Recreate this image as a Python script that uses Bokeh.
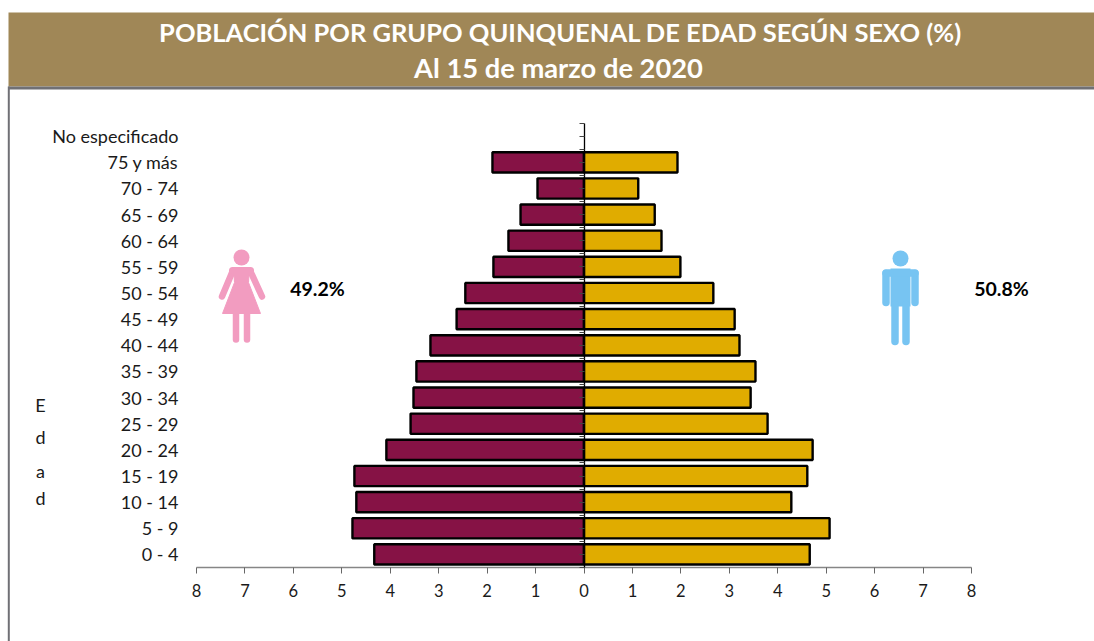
from bokeh.plotting import figure
from bokeh.models import Range1d, LinearAxis, FixedTicker, Label
from bokeh.embed import file_html
from bokeh.resources import INLINE

categories = ["0 - 4","5 - 9","10 - 14","15 - 19","20 - 24","25 - 29","30 - 34","35 - 39",
              "40 - 44","45 - 49","50 - 54","55 - 59","60 - 64","65 - 69","70 - 74","75 y más","No especificado"]
mujeres = [4.33,4.78,4.70,4.74,4.08,3.58,3.52,3.46,3.17,2.63,2.45,1.87,1.56,1.31,0.96,1.89,0]
hombres = [4.66,5.07,4.28,4.61,4.72,3.79,3.44,3.54,3.21,3.11,2.67,1.99,1.60,1.46,1.12,1.93,0]
x_ticks = [-8,-7,-6,-5,-4,-3,-2,-1,0,1,2,3,4,5,6,7,8]
title1 = "POBLACIÓN POR GRUPO QUINQUENAL DE EDAD SEGÚN SEXO (%)"
title2 = "Al 15 de marzo de 2020"
pct_m, pct_h = "49.2%", "50.8%"

FONT = "Lato"
W, H = 1094, 641
LEFT, TOP = 0, 0
X0, XU = 583.5, 48.44        # image px of value 0, px per unit
YB, YU = 567.0, 26.14        # image px of axis bottom, px per category

p = figure(width=W, height=H, output_backend="svg", toolbar_location=None,
           x_range=Range1d((LEFT-X0)/XU, (LEFT+W-X0)/XU),
           y_range=Range1d((YB-(TOP+H))/YU-0.5, (YB-TOP)/YU-0.5),
           min_border=0, x_axis_location=None, y_axis_location=None)
p.outline_line_color = None
p.grid.visible = False
p.extra_x_ranges["px"] = Range1d(LEFT, LEFT+W)
p.extra_y_ranges["py"] = Range1d(TOP+H, TOP)
px = dict(x_range_name="px", y_range_name="py")

# banner and frame lines
p.quad(left=[8], right=[1094], top=[12], bottom=[86], fill_color="#A08757", line_color=None, **px)
p.quad(left=[8], right=[1094], top=[86], bottom=[89], fill_color="#707075", line_color=None, **px)
p.quad(left=[7.3], right=[9.3], top=[86], bottom=[641], fill_color="#707075", line_color=None, **px)

ys = list(range(len(categories)))
bar_h = 0.775
ym = [y for y, v in zip(ys, mujeres) if v > 0]
yh = [y for y, v in zip(ys, hombres) if v > 0]
p.hbar(y=ym, left=[-v for v in mujeres if v > 0], right=0, height=bar_h, fill_color="#861245",
       line_color="black", line_width=2.4)
p.hbar(y=yh, left=0, right=[v for v in hombres if v > 0], height=bar_h, fill_color="#E0AC00",
       line_color="black", line_width=2.4)

# x axis
xax = LinearAxis(fixed_location=-0.5, ticker=FixedTicker(ticks=x_ticks), bounds=(-8, 8),
                 major_label_overrides={t: str(abs(t)) for t in x_ticks},
                 axis_line_color="#868686", axis_line_width=1.5,
                 major_tick_line_color="#666666", major_tick_out=6, major_tick_in=0,
                 minor_tick_line_color=None, major_label_standoff=10,
                 major_label_text_font=FONT, major_label_text_font_size="16.5px",
                 major_label_text_color="#1a1a1a")
p.add_layout(xax, "below")

# central axis with half-category ticks
half = [(i-1)/2 for i in range(len(categories)*2+1)]
zax = LinearAxis(fixed_location=0, ticker=FixedTicker(ticks=half), bounds=(-0.5, len(categories)-0.5),
                 axis_line_color="black", axis_line_width=1.3,
                 major_tick_line_color="#444444", major_tick_out=5, major_tick_in=0,
                 minor_tick_line_color=None, major_label_text_color=None,
                 major_label_text_font_size="1px")
p.add_layout(zax, "left")

# category labels
cax = LinearAxis(fixed_location=(196-X0)/XU, ticker=FixedTicker(ticks=ys),
                 major_label_overrides={i: c for i, c in enumerate(categories)},
                 axis_line_color=None, major_tick_line_color=None, minor_tick_line_color=None,
                 major_label_standoff=12, major_label_text_font=FONT,
                 major_label_text_font_size="18px", major_label_text_color="#1a1a1a")
p.add_layout(cax, "left")

# woman icon
PINK, BLUE = "#F29CC0", "#77C4F2"
p.scatter([241], [257], size=16, fill_color=PINK, line_color=None, **px)
p.patch([233,249,248,260,222,234], [267,267,282,313,313,282], fill_color=PINK, line_color=PINK, line_width=1, **px)
p.segment([232,250,235.5,246.5], [271,271,313,313], [221.5,261.5,235.5,246.5], [296,296,339,339],
          line_color=PINK, line_width=6.5, line_cap="round", **px)
p.segment([232], [270], [250], [270], line_color=PINK, line_width=7, line_cap="round", **px)
# man icon
p.scatter([900], [258], size=16, fill_color=BLUE, line_color=None, **px)
p.quad(left=[890], right=[910], top=[268], bottom=[306], fill_color=BLUE, line_color=None, **px)
p.segment([885.5,914.5,894.5,905.5,885.5], [273,273,304,304,272.5], [885.5,914.5,894.5,905.5,914.5], [302,302,341,341,272.5],
          line_color=BLUE, line_width=7.5, line_cap="round", **px)

def txt(x, y, s, size, bold=False, color="black", align="center"):
    p.add_layout(Label(x=x, y=y, text=s, text_font=FONT, text_font_size=size,
                       text_font_style="bold" if bold else "normal", text_color=color,
                       text_align=align, text_baseline="middle", **px))

txt(560, 31, title1, "25.5px", True, "white")
txt(558, 67, title2, "27.3px", True, "white")
txt(317, 288, pct_m, "19.5px", True)
txt(1001, 288, pct_h, "19.5px", True)
for ch, yy in zip("Edad", [404, 436, 470, 497]):
    txt(40, yy, ch, "18px", False, "#1a1a1a")

open("out.html", "w").write(file_html(p, INLINE))
